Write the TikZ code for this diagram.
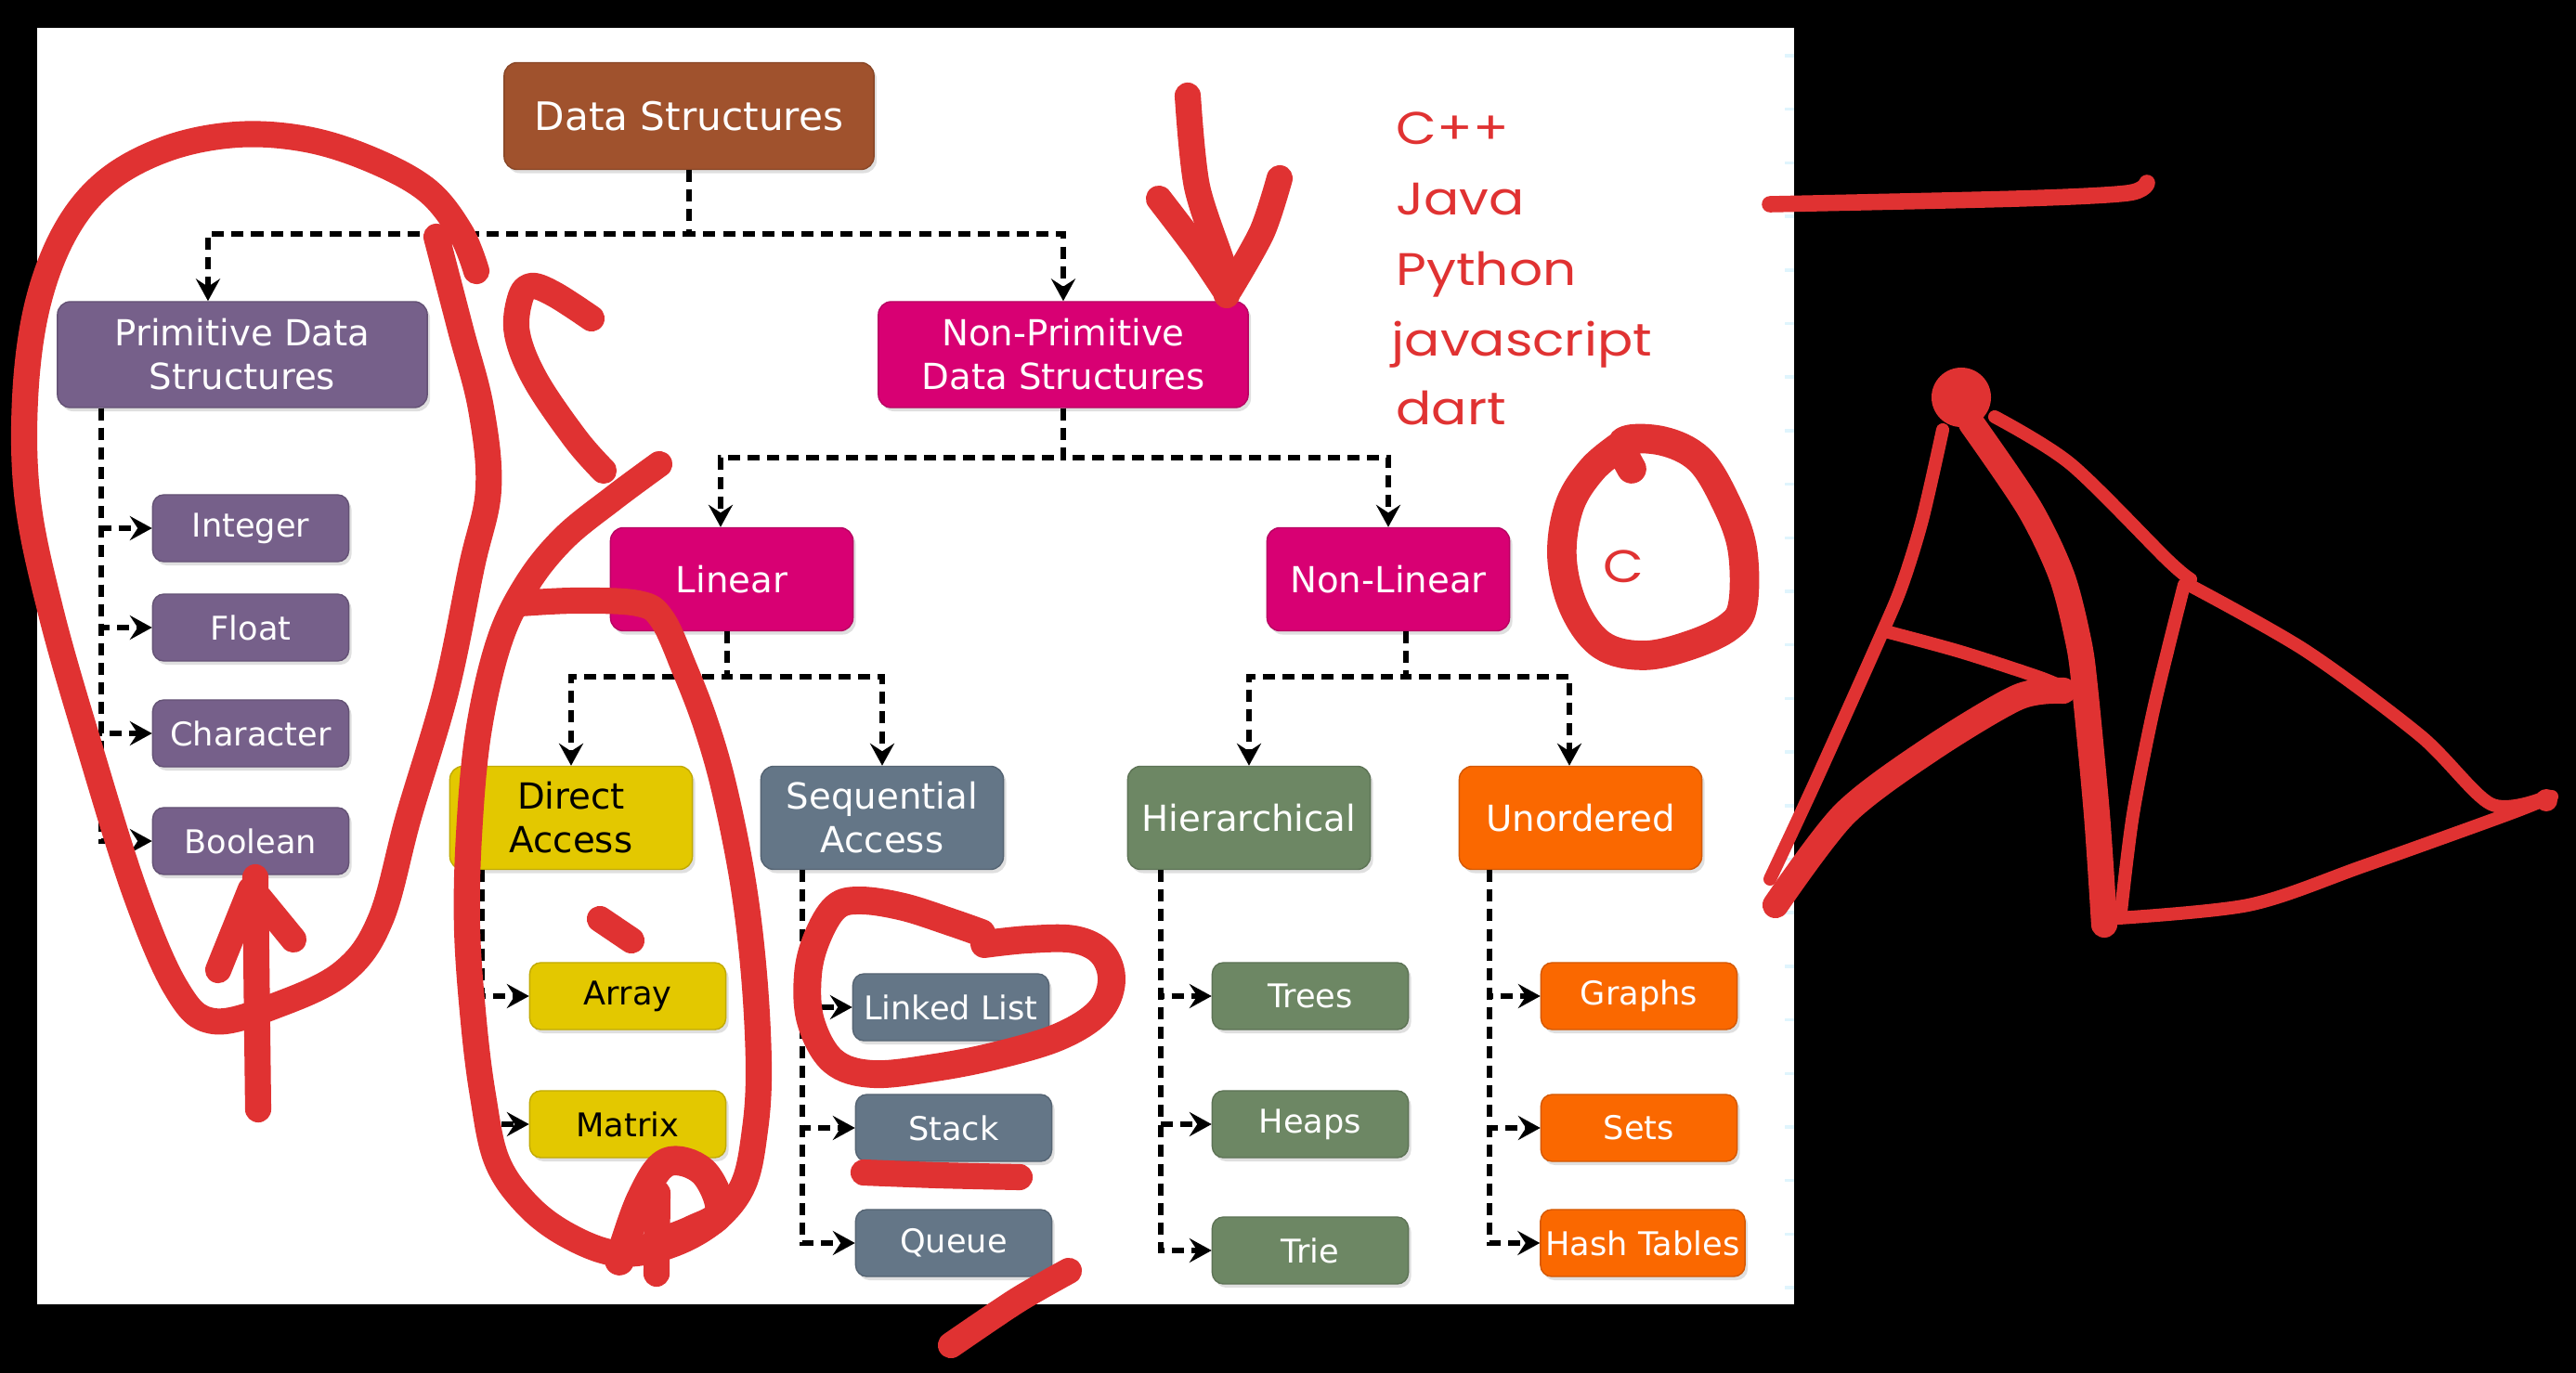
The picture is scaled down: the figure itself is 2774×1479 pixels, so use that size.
\documentclass[tikz,border=0pt]{standalone}
\usepackage{fontspec}
\setsansfont{DejaVu Sans}
\newfontfamily\handfont{Poppins}[FakeStretch=1.15]
\usetikzlibrary{arrows.meta,positioning,shadows}
\definecolor{dssienna}{HTML}{A0522D}
\definecolor{dspurple}{HTML}{76608A}
\definecolor{dsmagenta}{HTML}{D80073}
\definecolor{dsyellow}{HTML}{E3C800}
\definecolor{dsslate}{HTML}{647687}
\definecolor{dsolive}{HTML}{6D8764}
\definecolor{dsorange}{HTML}{FA6800}
\definecolor{inkred}{RGB}{224,50,50}

\begin{document}
\begin{tikzpicture}[x=0.01cm, y=-0.01cm, >={Stealth[length=6.8pt,width=7.4pt,inset=2.4pt]},
  box/.style={fill=#1, draw=#1!85!black, line width=0.4pt, rounded corners=0.14cm, align=center, text=white, inner sep=0pt,
    drop shadow={shadow xshift=0.03cm, shadow yshift=-0.04cm, opacity=0.25}},
  topbox/.style={box=dssienna, minimum width=3.98cm, minimum height=1.15cm, font=\sffamily\fontsize{12}{14}\selectfont},
  bigbox/.style={box=#1, minimum width=3.98cm, minimum height=1.14cm, font=\sffamily\fontsize{11}{13.4}\selectfont},
  catbox/.style={box=#1, minimum width=2.61cm, minimum height=1.11cm, font=\sffamily\fontsize{11}{13.4}\selectfont},
  leaf/.style={box=#1, minimum width=2.11cm, minimum height=0.72cm, rounded corners=0.12cm, font=\sffamily\fontsize{10}{12}\selectfont},
  link/.style={->, line width=1.7pt, dash pattern=on 3.7pt off 2.3pt},
  ink/.style={draw=inkred, line width=8pt, line cap=round, line join=round},
  thinink/.style={ink, line width=4pt},
  hand/.style={text=inkred, inner sep=0pt, font=\handfont\fontsize{14}{16}\selectfont}]
\useasboundingbox (0,0) rectangle (2774,1479);
\fill[black] (0,0) rectangle (2774,1479);
\fill[white] (40,30) rectangle (1932,1405);
\foreach \k in {0,...,23}
  \draw[cyan!12, line width=1pt] (1922,{60+57.7*\k}) -- (1932,{60+57.7*\k});

% tree of boxes
\node[topbox] (ds) at (742,125) {Data Structures};
\node[bigbox=dspurple] (prim) at (261,382) {Primitive Data\\Structures};
\node[bigbox=dsmagenta] (nprim) at (1145,382) {Non-Primitive\\Data Structures};
\node[catbox=dsmagenta] (lin) at (788,624) {Linear};
\node[catbox=dsmagenta] (nlin) at (1495,624) {Non-Linear};
\node[catbox=dsyellow, text=black] (direct) at (615,881) {Direct\\Access};
\node[catbox=dsslate] (seq) at (950,881) {Sequential\\Access};
\node[catbox=dsolive] (hier) at (1345,881) {Hierarchical};
\node[catbox=dsorange] (unord) at (1702,881) {Unordered};

\node[leaf=dspurple] (int) at (270,569) {Integer};
\node[leaf=dspurple] (flt) at (270,676) {Float};
\node[leaf=dspurple] (chr) at (270,790) {Character};
\node[leaf=dspurple] (bool) at (270,906) {Boolean};
\node[leaf=dsyellow, text=black] (arr) at (676,1073) {Array};
\node[leaf=dsyellow, text=black] (mat) at (676,1211) {Matrix};
\node[leaf=dsslate] (ll) at (1024,1085) {Linked List};
\node[leaf=dsslate] (stk) at (1027,1215) {Stack};
\node[leaf=dsslate] (que) at (1027,1339) {Queue};
\node[leaf=dsolive] (tree) at (1411,1073) {Trees};
\node[leaf=dsolive] (heap) at (1411,1211) {Heaps};
\node[leaf=dsolive] (trie) at (1411,1347) {Trie};
\node[leaf=dsorange] (grph) at (1765,1073) {Graphs};
\node[leaf=dsorange] (sets) at (1765,1215) {Sets};
\node[leaf=dsorange, minimum width=2.2cm] (hash) at (1769,1339) {Hash Tables};

% dashed connectors
\draw[link] (ds.south) -- ++(0,69) -| ([xshift=-0.37cm]prim.north);
\draw[link] (ds.south) -- ++(0,69) -| (nprim.north);
\draw[link] (nprim.south) -- ++(0,53) -| ([xshift=-0.12cm]lin.north);
\draw[link] (nprim.south) -- ++(0,53) -| (nlin.north);
\draw[link] ([xshift=-0.05cm]lin.south) -- ++(0,49) -| (direct.north);
\draw[link] ([xshift=-0.05cm]lin.south) -- ++(0,49) -| (seq.north);
\draw[link] ([xshift=0.19cm]nlin.south) -- ++(0,49) -| (hier.north);
\draw[link] ([xshift=0.19cm]nlin.south) -- ++(0,49) -| ([xshift=-0.12cm]unord.north);
\foreach \leafname in {int,flt,chr,bool}
  \draw[link] ([xshift=0.48cm]prim.south west) |- (\leafname.west);
\foreach \leafname in {arr,mat}
  \draw[link] ([xshift=0.35cm]direct.south west) |- (\leafname.west);
\foreach \leafname in {ll,stk,que}
  \draw[link] ([xshift=0.45cm]seq.south west) |- (\leafname.west);
\foreach \leafname in {tree,heap,trie}
  \draw[link] ([xshift=0.36cm]hier.south west) |- (\leafname.west);
\foreach \leafname in {grph,sets,hash}
  \draw[link] ([xshift=0.33cm]unord.south west) |- (\leafname.west);

% red notes on top
\draw[ink] plot[smooth, tension=0.6] coordinates {(513,292) (496,250) (460,205) (400,172) (330,150) (255,145) (180,160) (115,195) (70,250) (40,330) (27,430) (30,540) (55,660) (95,800) (145,960) (190,1065) (230,1100) (300,1082) (370,1047) (410,990) (440,880) (480,745) (508,610) (526,527) (518,440) (496,355) (470,255)};
\draw[ink] (278,1195) -- (275,945);
\draw[ink] (235,1045) -- (270,958);
\draw[ink] (316,1012) -- (280,968);
\draw[ink] plot[smooth, tension=0.6] coordinates {(650,507) (620,473) (577,410) (557,360) (560,322) (572,308) (597,317) (637,343)};
\draw[ink] plot[smooth, tension=0.6] coordinates {(710,500) (660,537) (607,580) (567,630) (537,693) (515,790) (505,900) (503,1000) (510,1100) (520,1180) (535,1250) (567,1297) (610,1330) (663,1350) (717,1343) (767,1317) (800,1277) (813,1217) (817,1150) (812,1050) (800,950) (780,850) (760,780) (737,720) (713,667) (687,650) (620,647) (560,650)};
\draw[ink] (646,990) -- (680,1013);
\draw[ink, line width=9pt] plot[smooth, tension=0.6] coordinates {(667,1358) (690,1292) (718,1252) (757,1262) (775,1305) (745,1325) (705,1340)};
\draw[ink] (708,1285) -- (707,1372);
\draw[ink, line width=8.5pt] plot[smooth, tension=0.6] coordinates {(1057,1005) (1023,993) (973,977) (927,970) (900,977) (880,1010) (870,1050) (873,1100) (897,1143) (940,1157) (1007,1150) (1073,1137) (1140,1117) (1183,1090) (1197,1057) (1187,1027) (1157,1012) (1107,1012) (1060,1017)};
\draw[ink] plot[smooth] coordinates {(930,1263) (1010,1266) (1098,1268)};
\draw[ink] plot[smooth] coordinates {(1151,1369) (1095,1401) (1024,1449)};
\draw[ink] plot[smooth] coordinates {(1279,103) (1289,201) (1318,290) (1321,318)};
\draw[ink] plot[smooth] coordinates {(1248,214) (1289,268) (1320,314)};
\draw[ink] plot[smooth] coordinates {(1378,192) (1359,250) (1324,312)};
\node[hand, anchor=base west] (cpp) at (1503,156) {C++};
\node[hand, anchor=base west] (java) at (1503,232) {Java};
\node[hand, anchor=base west] (py) at (1503,308) {Python};
\node[hand, anchor=base west] (js) at (1498,384) {javascript};
\node[hand, anchor=base west] (dart) at (1503,458) {dart};
\node[hand] (clang) at (1748,610) {C};
\draw[ink, line width=9pt] plot[smooth, tension=0.6] coordinates {(1757,505) (1748,476) (1790,475) (1830,495) (1858,540) (1876,590) (1877,650) (1862,675) (1820,695) (1770,706) (1725,695) (1695,655) (1682,600) (1690,545) (1715,505) (1748,478)};
\draw[ink, line width=5pt] plot[smooth] coordinates {(1906,220) (2173,214) (2291,208) (2312,197)};
% triangle sketch
\fill[inkred] (2112,428) circle (0.32cm);
\draw[thinink] plot[smooth] coordinates {(2092,463) (2070,560) (2048,631) (2024,688) (1955,842) (1906,947)};
\draw[thinink] plot[smooth] coordinates {(2030,680) (2111,702) (2197,730) (2229,744)};
\draw[ink] plot[smooth] coordinates {(1912,975) (1986,877) (2079,807) (2173,751) (2222,744)};
\draw[ink] plot[smooth] coordinates {(2123,456) (2185,547) (2220,620) (2238,690) (2245,740) (2258,877) (2266,996)};
\draw[thinink] plot[smooth] coordinates {(2148,449) (2230,500) (2334,603) (2359,624)};
\draw[thinink] plot[smooth] coordinates {(2352,630) (2320,760) (2297,877) (2284,982)};
\draw[thinink] plot[smooth] coordinates {(2359,631) (2483,701) (2607,793) (2682,866) (2738,860)};
\draw[thinink] plot[smooth] coordinates {(2266,990) (2421,975) (2545,933) (2701,877) (2748,858)};
\fill[inkred] (2742,862) circle (0.12cm);
\end{tikzpicture}
\end{document}
